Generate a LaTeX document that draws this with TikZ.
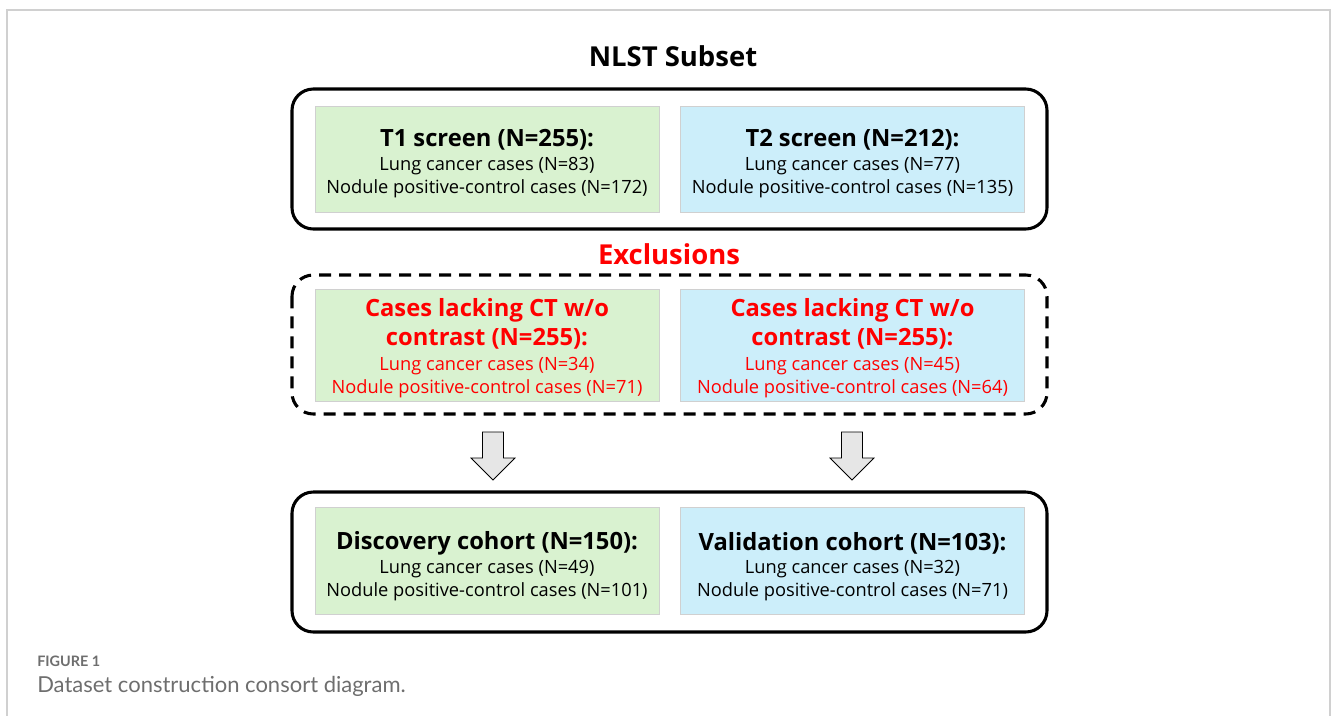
\documentclass[tikz,border=0pt]{standalone}
\usepackage{fontspec}
\setmainfont{Open Sans}
\newfontfamily\capfont{Lato}
\definecolor{boxgreen}{HTML}{D9F2D0}
\definecolor{boxblue}{HTML}{CCEEFA}
\definecolor{boxedge}{HTML}{D0D0D0}
\definecolor{exred}{HTML}{FF0000}
\definecolor{capgray}{HTML}{6E6E6E}
\definecolor{arrowfill}{HTML}{E6E6E6}
\begin{document}
\begin{tikzpicture}[x=0.75pt,y=-0.75pt,
  groupbox/.style={draw=black, line width=2.3pt, rounded corners=16pt},
  panel/.style={draw=boxedge, line width=0.6pt, minimum width=258pt, minimum height=80pt, inner sep=0pt},
  greenpanel/.style={panel, fill=boxgreen},
  bluepanel/.style={panel, fill=boxblue},
  headtext/.style={font=\bfseries\fontsize{17.8}{21.5}\selectfont, inner sep=0pt, align=center},
  bodytext/.style={font=\fontsize{13.7}{17.3}\selectfont, inner sep=0pt, align=center},
  titletext/.style={font=\bfseries\fontsize{20.6}{24}\selectfont, inner sep=0pt},
  downarrow/.style={draw=black, line width=0.6pt, fill=arrowfill}
]
\useasboundingbox (0,0) rectangle (1331,715);
% page frame
\draw[boxedge, line width=1pt] (7,720) -- (7,10) -- (1330,10) -- (1330,720);

% section titles
\node[titletext] (title) at (673,56) {NLST Subset};
\node[titletext, text=exred] (excl) at (669,254) {Exclusions};

% outer groups
\draw[groupbox] (292,89) rectangle (1047,229);
\draw[groupbox, dashed, dash pattern=on 9pt off 6pt] (292,275) rectangle (1047,414);
\draw[groupbox] (292,492) rectangle (1047,632);

% screening panels
\node[greenpanel, minimum height=80pt] (t1) at (487,159.5) {};
\node[bluepanel, minimum height=80pt] (t2) at (852.5,159.5) {};
\node[headtext] (t1h) at (487,140) {T1 screen (N=255):};
\node[bodytext] (t1b) at (487,178) {Lung cancer cases (N=83)\\Nodule positive-control cases (N=172)};
\node[headtext] (t2h) at (852.5,140) {T2 screen (N=212):};
\node[bodytext] (t2b) at (852.5,178) {Lung cancer cases (N=77)\\Nodule positive-control cases (N=135)};

% exclusion panels
\node[greenpanel, minimum height=84pt] (e1) at (487,345) {};
\node[bluepanel, minimum height=84pt] (e2) at (852.5,345) {};
\node[headtext, text=exred] (e1h) at (487,324) {Cases lacking CT w/o\\contrast (N=255):};
\node[bodytext, text=exred] (e1b) at (487,378) {Lung cancer cases (N=34)\\Nodule positive-control cases (N=71)};
\node[headtext, text=exred] (e2h) at (852.5,324) {Cases lacking CT w/o\\contrast (N=255):};
\node[bodytext, text=exred] (e2b) at (852.5,378) {Lung cancer cases (N=45)\\Nodule positive-control cases (N=64)};

% cohort panels
\node[greenpanel, minimum height=80pt] (c1) at (487,561) {};
\node[bluepanel, minimum height=80pt] (c2) at (852.5,561) {};
\node[headtext] (c1h) at (487,543) {Discovery cohort (N=150):};
\node[bodytext] (c1b) at (487,581) {Lung cancer cases (N=49)\\Nodule positive-control cases (N=101)};
\node[headtext] (c2h) at (852.5,543) {Validation cohort (N=103):};
\node[bodytext] (c2b) at (852.5,581) {Lung cancer cases (N=32)\\Nodule positive-control cases (N=71)};

% block arrows between exclusions and cohorts
\foreach \cx/\nm in {493/la, 852/ra}{
  \coordinate (\nm) at (\cx,432);
  \draw[downarrow] (\nm) ++(-10.5,0) -- ++(21,0) -- ++(0,26) -- ++(11.5,0)
    -- ++(-22,22) -- ++(-22,-22) -- ++(11.5,0) -- cycle;
}

% caption
\node[anchor=west, inner sep=0pt, text=capgray, font=\capfont\bfseries\fontsize{10.8}{12}\selectfont] (figlabel) at (37,661) {FIGURE 1};
\node[anchor=west, inner sep=0pt, text=capgray, font=\capfont\fontsize{16.5}{20}\selectfont] (figcap) at (37,686) {Dataset construction consort diagram.};
\end{tikzpicture}
\end{document}
